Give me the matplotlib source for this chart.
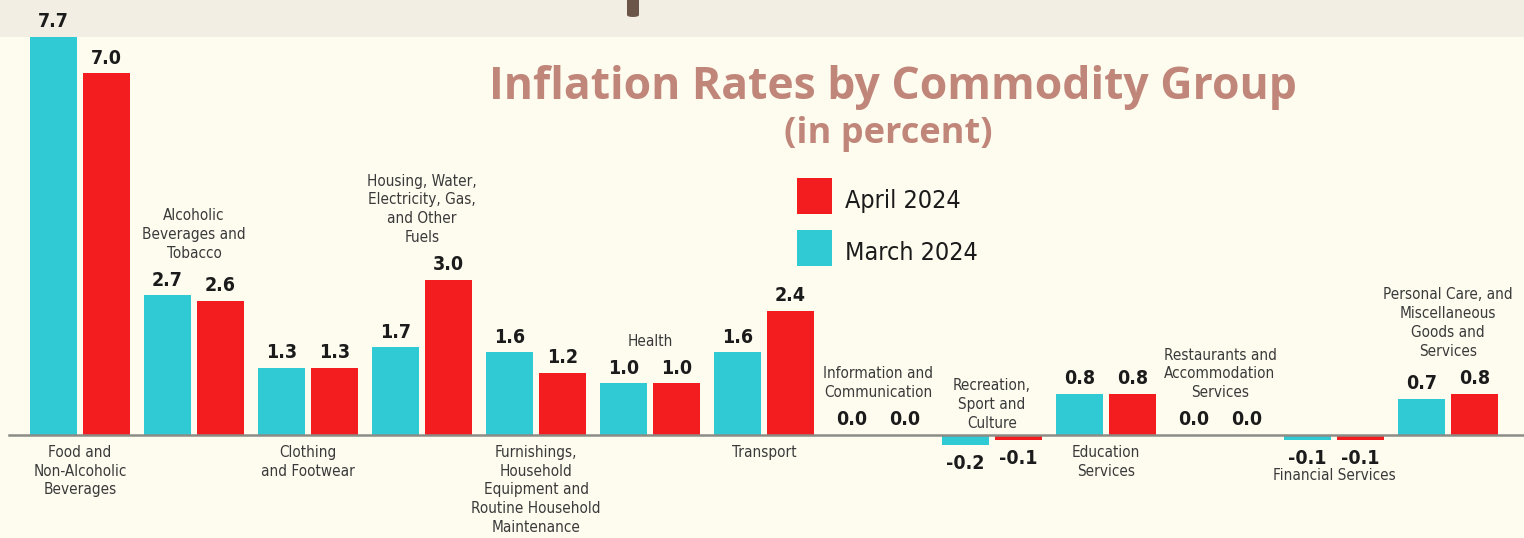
import numpy as np
import matplotlib.pyplot as plt
from matplotlib.patches import Rectangle, FancyBboxPatch

# Inflation rates by commodity group (percent)
categories = [
    'Food and\nNon-Alcoholic\nBeverages',
    'Alcoholic\nBeverages and\nTobacco',
    'Clothing\nand Footwear',
    'Housing, Water,\nElectricity, Gas,\nand Other\nFuels',
    'Furnishings,\nHousehold\nEquipment and\nRoutine Household\nMaintenance',
    'Health',
    'Transport',
    'Information and\nCommunication',
    'Recreation,\nSport and\nCulture',
    'Education\nServices',
    'Restaurants and\nAccommodation\nServices',
    'Financial Services',
    'Personal Care, and\nMiscellaneous\nGoods and\nServices',
]
march_2024 = [7.7, 2.7, 1.3, 1.7, 1.6, 1.0, 1.6, 0.0, -0.2, 0.8, 0.0, -0.1, 0.7]
april_2024 = [7.0, 2.6, 1.3, 3.0, 1.2, 1.0, 2.4, 0.0, -0.1, 0.8, 0.0, -0.1, 0.8]
label_side = ['below', 'above', 'below', 'above', 'below', 'above', 'below',
              'above', 'above', 'below', 'above', 'below', 'above']

CYAN = '#2fcad4'
RED = '#f31c1e'
TITLE = '#c0867a'
BG = '#fefbef'
STRIP = '#f3eee3'

W, H = 1524, 538
fig = plt.figure(figsize=(W / 100, H / 100), dpi=100)
fig.patch.set_facecolor(BG)

# top strip of the page
fig.patches.append(Rectangle((0, 1 - 37 / H), 1, 37 / H, transform=fig.transFigure,
                             facecolor=STRIP, edgecolor='none', zorder=0))
fig.patches.append(FancyBboxPatch((627 / W, 1 - 17 / H), 12 / W, 20 / H,
                                  boxstyle='round,pad=0,rounding_size=0.004',
                                  transform=fig.transFigure, facecolor='#6a5548',
                                  edgecolor='none', zorder=1))

ax = fig.add_axes([0, 0, 1, 1])
ax.set_zorder(3)
ax.set_facecolor('none')
px_per_unit = 51.7
group_px = 114
x0_px = 80
base_px = 435
ax.set_xlim(-x0_px / group_px, (W - x0_px) / group_px)
ax.set_ylim(-(H - base_px) / px_per_unit, base_px / px_per_unit)
ax.axis('off')

x = np.arange(len(categories))
bw = 0.42
off = 0.232
ax.bar(x - off, march_2024, bw, color=CYAN, zorder=2)
ax.bar(x + off, april_2024, bw, color=RED, zorder=2)
ax.axhline(0, xmin=9 / W, xmax=1, color='#8c8c86', lw=1.8, zorder=3)

vfont = dict(fontsize=14, fontweight='bold', color='#1b1b1b',
             family='DejaVu Sans', fontstretch='condensed')
for xs, vals in ((x - off, march_2024), (x + off, april_2024)):
    for xi, v in zip(xs, vals):
        if v < 0:
            ax.annotate(f'{v:.1f}', (xi, v), xytext=(0, -6), textcoords='offset points',
                        ha='center', va='top', **vfont)
        else:
            ax.annotate(f'{v:.1f}', (xi, v), xytext=(0, 4), textcoords='offset points',
                        ha='center', va='bottom', **vfont)

cfont = dict(fontsize=11, color='#3a3a3a', linespacing=1.32,
             family='DejaVu Sans', fontstretch='condensed')
for i, (name, side) in enumerate(zip(categories, label_side)):
    hi = max(march_2024[i], april_2024[i], 0)
    lo = min(march_2024[i], april_2024[i], 0)
    if side == 'above':
        dy = 25 if hi > 0 or lo == 0 else 3
        ax.annotate(name, (i, hi), xytext=(0, dy), textcoords='offset points',
                    ha='center', va='bottom', **cfont)
    else:
        dy = -20 if lo < 0 else -7
        ax.annotate(name, (i, lo), xytext=(0, dy), textcoords='offset points',
                    ha='center', va='top', **cfont)

# title block
fig.text(893 / W, 1 - 87 / H, 'Inflation Rates by Commodity Group', ha='center', va='center',
         fontsize=32, fontweight='bold', color=TITLE, family='Open Sans')
fig.text(888 / W, 1 - 134 / H, '(in percent)', ha='center', va='center',
         fontsize=26, fontweight='bold', color=TITLE, family='Open Sans')

# legend
for yc, col, lab in ((196, RED, 'April 2024'), (248, CYAN, 'March 2024')):
    fig.patches.append(Rectangle((797 / W, 1 - (yc + 18) / H), 35 / W, 36 / H,
                                 transform=fig.transFigure, facecolor=col,
                                 edgecolor='none', zorder=2))
    fig.text(845 / W, 1 - (yc + 5) / H, lab, ha='left', va='center', fontsize=18,
             color='#1b1b1b', family='DejaVu Sans', fontstretch='condensed')

fig.savefig('out.png', dpi=100, facecolor=BG)
